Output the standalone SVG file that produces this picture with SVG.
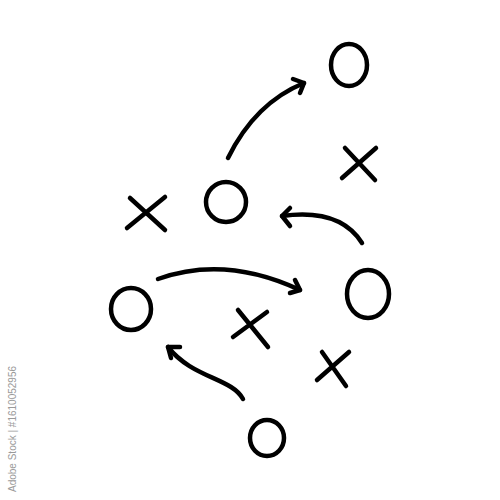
<svg xmlns="http://www.w3.org/2000/svg" width="500" height="500" viewBox="0 0 500 500">
<style>
.s{fill:none;stroke:#000;stroke-width:4.5;stroke-linecap:round;stroke-linejoin:round}
.wm{font-family:"Liberation Sans",Arial,sans-serif;font-size:10px;fill:#9a9a9a}
</style>
<rect width="500" height="500" fill="#fff"/>
<g id="o1"><ellipse class="s" cx="349" cy="65" rx="18" ry="21"/></g>
<g id="o2"><ellipse class="s" cx="226" cy="202" rx="20" ry="20"/></g>
<g id="o3"><ellipse class="s" cx="131" cy="309" rx="20" ry="21"/></g>
<g id="o4"><ellipse class="s" cx="368" cy="294" rx="21" ry="24"/></g>
<g id="o5"><ellipse class="s" cx="267" cy="438" rx="17" ry="18"/></g>
<g id="x1"><path class="s" d="M342,178 L376,148 M345,148 L375,180"/></g>
<g id="x2"><path class="s" d="M127,228 L165,197 M130,198 L165,230"/></g>
<g id="x3"><path class="s" d="M233,337 L267,312 M238,310 L268,347"/></g>
<g id="x4"><path class="s" d="M317,380 L349,352 M322,352 L346,386"/></g>
<g id="connectors">
<path class="s" d="M228,158 Q255,103 304,83"/>
<path class="s" d="M293,79 L304,83 L300,93"/>
<path class="s" d="M362,243 Q340,208 282,216"/>
<path class="s" d="M290,208 L282,216 L290,226"/>
<path class="s" d="M158,279 Q225,255 300,290"/>
<path class="s" d="M295,280 L300,290 L290,293"/>
<path class="s" d="M243,399 C232,378 192,378 168,347"/>
<path class="s" d="M180,347 L168,347 L171,358"/>
</g>
<text class="wm" transform="translate(16,492) rotate(-90)">Adobe Stock | #1610052956</text>
</svg>
